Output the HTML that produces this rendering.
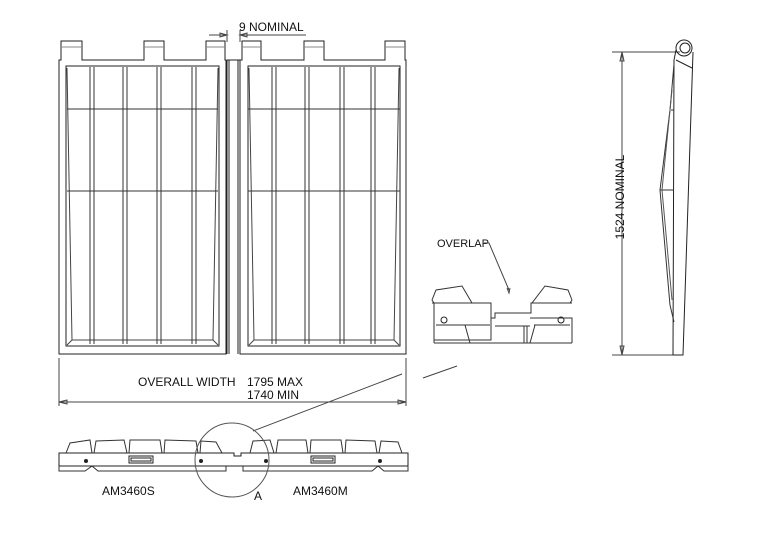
<!DOCTYPE html>
<html><head><meta charset="utf-8"><style>
html,body{margin:0;padding:0;background:#fff;}
svg{display:block;}
text{font-family:"Liberation Sans",sans-serif;fill:#111;}
</style></head><body>
<svg width="760" height="539" viewBox="0 0 760 539" xmlns="http://www.w3.org/2000/svg" fill="none" stroke="#222" stroke-width="1">
<!-- LEFT PANEL -->
<path d="M59,354 V60 H61 V41 H82 V60 H144 V41 H164 V60 H206 V41 H225 V60 H226 V354 Z"/>
<path d="M61,47 H82 M144,47 H164 M206,47 H225" stroke="#888"/>
<rect x="66" y="66" width="153" height="280"/>
<path d="M67,68 L72,340 L67,345 M218,68 L213,340 L218,345 M72,340 H213" stroke="#444"/>
<path d="M67,109 H218 M67,191 H218" stroke="#333"/>
<path d="M90,67 V344 M94,67 V344 M123,67 V344 M127,67 V344 M157,67 V344 M161,67 V344 M192,67 V344 M196,67 V344" stroke="#333"/>
<!-- centre strip -->
<path d="M227,60 V354 M229,60 V354 M238,60 V354 M240,60 V354 M227,60 H240"/>
<!-- RIGHT PANEL -->
<path d="M240,354 V60 H242 V41 H261 V60 H304 V41 H324 V60 H385 V41 H405 V60 H406 V354 Z"/>
<path d="M242,47 H261 M304,47 H324 M385,47 H405" stroke="#888"/>
<rect x="248" y="66" width="152" height="280"/>
<path d="M249,68 L254,340 L249,345 M399,68 L394,340 L399,345 M254,340 H394" stroke="#444"/>
<path d="M248,109 H400 M248,191 H400" stroke="#333"/>
<path d="M272,67 V344 M276,67 V344 M305,67 V344 M309,67 V344 M340,67 V344 M344,67 V344 M371,67 V344 M375,67 V344" stroke="#333"/>
<!-- 9 NOMINAL -->
<path d="M209,35 H226 M241,35 H306 M227,30 V42 M240,30 V42" stroke="#444"/>
<path d="M227,35 l-7,-2 v4 z M240,35 l7,-2 v4 z" stroke="#444"/>
<text x="239" y="31" font-size="12" stroke="none">9 NOMINAL</text>
<!-- overall width dim -->
<path d="M59,358 V406 M406,358 V406 M59,402 H406" stroke="#444"/>
<path d="M59,402 l8,-2 v4 z M406,402 l-8,-2 v4 z" stroke="#444"/>
<text x="138" y="386" font-size="12" stroke="none">OVERALL WIDTH</text>
<text x="247" y="386" font-size="12" stroke="none">1795 MAX</text>
<text x="247" y="399" font-size="12" stroke="none">1740 MIN</text>
<path d="M253,431 L402,374 M423,378 L457,366" stroke="#444"/>
<!-- bottom elevation -->
<path d="M59,453 H234 V456 H241 V453 H408 V466 H59 Z"/>
<path d="M59,466 V471 H85 L92,466 M92,466 L98,471 H226 V466 M243,466 V471 H372 L378,466 L384,471 H408 V466" stroke="#333"/>
<path d="M66,453 L70,443 L90,440 L92,453 M94,453 L96,441 L124,440 L127,453 M129,453 L130,440 L160,440 L162,453 M164,453 L165,440 L196,441 L198,453 M200,453 L201,441 L216,442 L222,453" stroke="#333"/>
<path d="M250,453 L253,441 L270,440 L274,453 M276,453 L278,440 L306,440 L308,453 M310,453 L311,440 L341,440 L343,453 M345,453 L346,440 L375,441 L377,453 M379,453 L381,441 L398,442 L402,453" stroke="#333"/>
<rect x="129" y="456" width="24" height="7"/><rect x="131" y="458" width="20" height="3"/>
<rect x="311" y="456" width="24" height="7"/><rect x="313" y="458" width="20" height="3"/>
<circle cx="86" cy="461" r="1.5" fill="#222"/><circle cx="201" cy="461" r="1.5" fill="#222"/>
<circle cx="266" cy="461" r="1.5" fill="#222"/><circle cx="380" cy="461" r="1.5" fill="#222"/>
<circle cx="232" cy="460" r="37" stroke="#555"/>
<text x="102" y="495" font-size="12" stroke="none">AM3460S</text>
<text x="293" y="495" font-size="12" stroke="none">AM3460M</text>
<text x="254" y="500" font-size="12" stroke="none">A</text>
<!-- overlap detail -->
<text x="437" y="247" font-size="11" stroke="none">OVERLAP</text>
<path d="M484,243 H489 L509,290 M507,288 l2,5 l1,-5" stroke="#444"/>
<path d="M432,300 L436,290 L462,286 L472,303 H434 Z" stroke="#333"/>
<path d="M572,300 L568,290 L545,286 L532,303 H570 Z" stroke="#333"/>
<path d="M432,303 H491 V318 H495 V313 H531 V303 H572 M434,340 H491 V318 M495,326 H530 M524,326 V343 M527,326 V343 M530,318 H572 V343 M434,303 V343 M436,325 H490 M534,325 H570" stroke="#333"/>
<path d="M465,325 L470,343 M535,325 L530,343 M434,343 H572" stroke="#333"/>
<circle cx="444" cy="320" r="3"/><circle cx="561" cy="320" r="3"/>
<!-- side view -->
<path d="M622,52 V355 M612,52 H680 M612,355 H676 M622,52 l-2,9 h4 z M622,355 l-2,-9 h4 z" stroke="#444"/>
<text transform="translate(624,197) rotate(-90)" font-size="12" stroke="none" text-anchor="middle">1524 NOMINAL</text>
<circle cx="684" cy="48" r="8"/><circle cx="685" cy="48" r="5"/>
<path d="M676,50 L674,60 L673,355 H683 L693,52 M676,60 L692,68"/>
<path d="M674,64 L670,110 L660,190 L670,305 L674,322 M671,110 H674 M660,190 H674" stroke="#333"/>
<path d="M672,90 L662,190 L672,300" stroke="#555"/>
</svg>
</body></html>
